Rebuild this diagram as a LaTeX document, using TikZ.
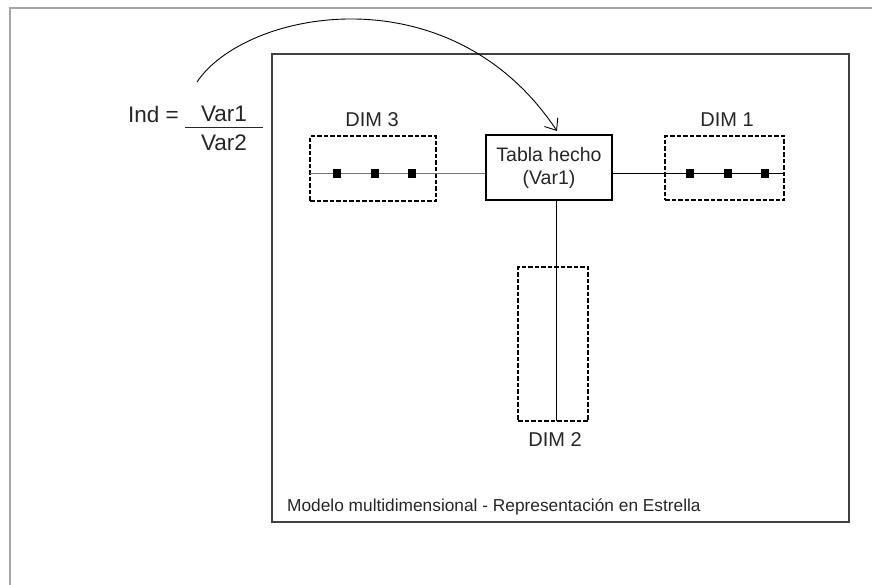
\documentclass[tikz,border=0pt]{standalone}
\usepackage{fontspec}
\setmainfont{Liberation Sans}
\usetikzlibrary{arrows.meta,calc}
\begin{document}
\begin{tikzpicture}[x=1pt,y=-1pt,
  lbl/.style={inner sep=0pt,text=black!85,font=\fontsize{20}{22}\selectfont},
  dimbox/.style={draw,dashed,line width=1.6pt,dash pattern=on 4.5pt off 2pt,inner sep=0pt,minimum width=#1},
  dot/.style={fill=black,inner sep=0pt,minimum width=8pt,minimum height=9pt},
  conn/.style={line width=1pt}]
\useasboundingbox (0,0) rectangle (872,584);
% outer frame
\draw[gray!70,line width=2pt] (10,590) -- (10,8) -- (880,8);
% inner frame
\node[draw=black!75,line width=1.5pt,inner sep=0pt,minimum width=577pt,minimum height=468pt] (frame) at (560.5,288) {};
% dimension boxes
\node[dimbox=126pt,minimum height=65pt] (d3) at (373,168.5) {};
\node[dimbox=119pt,minimum height=64pt] (d1) at (724.5,168) {};
\node[dimbox=70pt,minimum height=154pt] (d2) at (553,344) {};
% fact table
\node[draw,line width=1.1pt,minimum width=126pt,minimum height=65pt,inner sep=0pt,align=center,text=black!85,font=\fontsize{19.5}{23}\selectfont] (fact) at (549,167.5) {Tabla hecho\\(Var1)};
% labels
\node[lbl] (l3) at (372,120) {DIM 3};
\node[lbl] (l1) at (727,120) {DIM 1};
\node[lbl] (l2) at (555,440) {DIM 2};
\node[lbl,font=\fontsize{17.3}{19}\selectfont,anchor=west] (cap) at (287,507) {Modelo multidimensional - Representación en Estrella};
% formula
\node[lbl,font=\fontsize{22.5}{24}\selectfont,anchor=west] (ind) at (128,114) {Ind =};
\node[lbl,font=\fontsize{22.5}{24}\selectfont] (v1) at (224,114) {Var1};
\node[lbl,font=\fontsize{22.5}{24}\selectfont] (v2) at (224,143) {Var2};
\coordinate (fl) at (185,127);
\coordinate (fr) at (263,127);
\draw[line width=1pt,black!85] (fl) -- (fr);
% connector lines
\coordinate (a3) at (310,173);
\coordinate (a1) at (784,173);
\coordinate (a2) at (556,421);
\draw[conn,black!55] (a3) -- (a3 -| fact.west);
\draw[conn] (a1 -| fact.east) -- (a1);
\draw[conn] (a2 |- fact.south) -- (a2);
% dots
\foreach \x [count=\i] in {337,375,412}{\node[dot] (s3\i) at (\x,173) {};}
\foreach \x [count=\i] in {690,728,765}{\node[dot] (s1\i) at (\x,173) {};}
% arrow
\coordinate (astart) at (197,82);
\coordinate (aend) at (557,131);
\draw[line width=0.9pt,-{Straight Barb[length=10pt,width=16pt,line width=0.9pt]}] (astart) .. controls (245,10) and (450,-30) .. (aend);
\end{tikzpicture}
\end{document}
